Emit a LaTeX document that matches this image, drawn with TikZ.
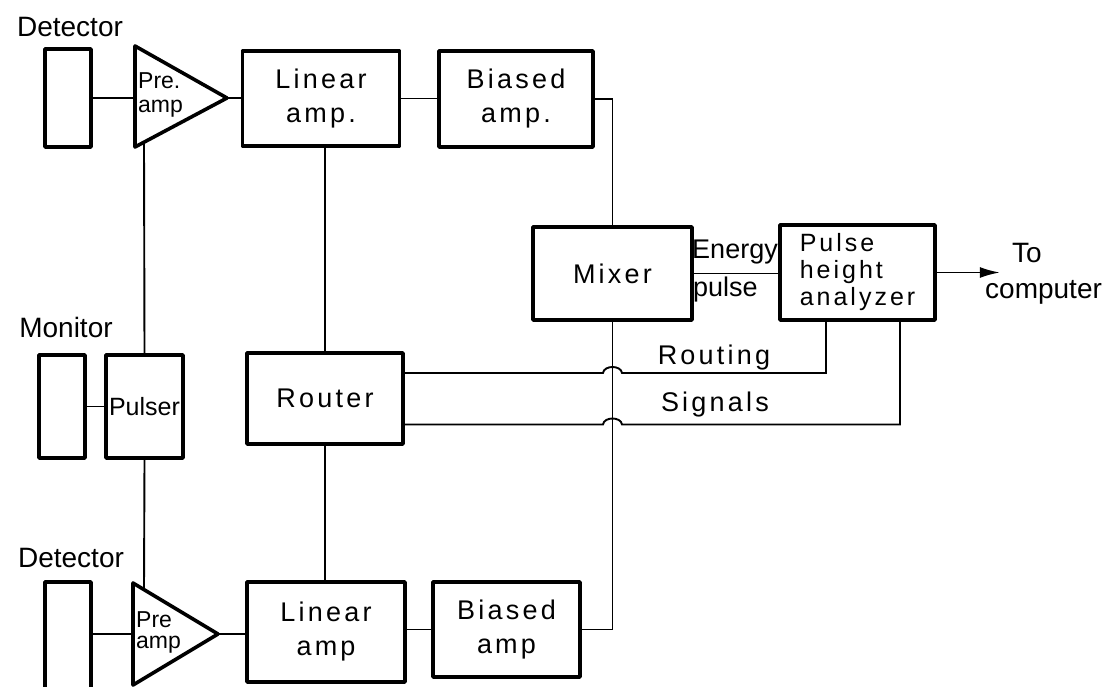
\documentclass[tikz,border=0pt]{standalone}
\usepackage{fontspec}
\setmainfont{Liberation Sans}
\newfontfamily\spacedfont{Liberation Sans}[LetterSpace=12]
\usetikzlibrary{arrows.meta}
\begin{document}
\begin{tikzpicture}[x=1pt,y=-1pt,
  blk/.style={draw, line width=3.6pt, inner sep=0pt, line join=round},
  wire/.style={line width=1.9pt},
  lbl/.style={font=\fontsize{28}{32}\selectfont, inner sep=0pt},
  btxt/.style={font=\spacedfont\fontsize{27}{34}\selectfont, align=center},
  smalltxt/.style={font=\fontsize{23}{24}\selectfont, inner sep=0pt, align=left},
  wlbl/.style={font=\spacedfont\fontsize{27}{32}\selectfont, inner sep=0pt}]
\useasboundingbox (0,0) rectangle (1119,687);

% ---------- top channel ----------
\node[lbl] (tdet) at (70,27) {Detector};
\node[blk, minimum width=46pt, minimum height=98pt] (det1) at (68,98) {};
\coordinate (p1a) at (135,46);
\coordinate (p1b) at (135,147);
\coordinate (p1out) at (227,98);
\coordinate (p1in) at (135,98);
\draw[line width=3.6pt, line join=round] (p1a) -- (p1out) -- (p1b) -- cycle;
\node[smalltxt, anchor=west] (p1txt) at (138,95) {Pre.\\amp};
\node[blk, btxt, minimum width=157pt, minimum height=95pt] (la1) at (321,98.5) {Linear\\amp.};
\node[blk, btxt, minimum width=154pt, minimum height=96pt] (ba1) at (516,99) {Biased\\amp.};

% ---------- middle ----------
\node[lbl] (tmon) at (66,327) {Monitor};
\node[blk, minimum width=46pt, minimum height=103pt] (mon) at (62,406.5) {};
\node[blk, minimum width=77pt, minimum height=103pt, font=\fontsize{25}{28}\selectfont] (pulser) at (144.5,406.5) {Pulser};
\node[blk, btxt, minimum width=156pt, minimum height=91pt] (router) at (325,398.5) {Router};
\node[blk, btxt, minimum width=159pt, minimum height=93pt] (mixer) at (612.5,273.5) {Mixer};
\node[blk, minimum width=155pt, minimum height=95pt, align=left,
      font=\spacedfont\fontsize{25}{27}\selectfont] (pha) at (857.5,272.5)
      {Pulse\\height\\analyzer};

% ---------- bottom channel ----------
\node[lbl] (bdet) at (71,558) {Detector};
\node[blk, minimum width=46pt, minimum height=108pt] (det2) at (68,636) {};
\coordinate (p2a) at (133,583);
\coordinate (p2b) at (133,685);
\coordinate (p2out) at (218,634);
\coordinate (p2in) at (133,634);
\draw[line width=3.6pt, line join=round] (p2a) -- (p2out) -- (p2b) -- cycle;
\node[smalltxt, anchor=west] (p2txt) at (136,632) {Pre\\[-3pt]amp};
\node[blk, btxt, minimum width=158pt, minimum height=100pt] (la2) at (326,632) {Linear\\amp};
\node[blk, btxt, minimum width=147pt, minimum height=95pt] (ba2) at (506.5,629.5) {Biased\\amp};

% ---------- wires ----------
\coordinate (pt1) at (144,142.2);
\coordinate (pt2) at (144,589.6);
\draw[wire] (det1.east |- p1in) -- (p1in);
\draw[wire] (p1out) -- (la1.west |- p1out);
\draw[wire] (la1.east) -- (ba1.west |- la1.east);
\draw[wire] (ba1.east) -- (mixer.north |- ba1.east) -- (mixer.north);
\draw[wire] (router.north) -- (router.north |- la1.south);
\draw[wire] (router.south) -- (router.south |- la2.north);
\draw[wire] (pulser.north) -- (pt1);
\draw[wire] (pulser.south) -- (pt2);
\draw[wire] (mon.east) -- (pulser.west);
\draw[wire] (det2.east |- p2in) -- (p2in);
\draw[wire] (p2out) -- (la2.west |- p2out);
\draw[wire] (la2.east |- ba2.west) -- (ba2.west);
\draw[wire] (ba2.east) -- (mixer.south |- ba2.east) -- (mixer.south);
\draw[wire] (mixer.east) -- (pha.west |- mixer.east);
\draw[wire, -{Latex[length=20pt, width=11pt]}] (pha.east) -- ++(63,0) coordinate (tip);

% routing / signals with hops over the mixer line
\draw[wire] ([yshift=25.5pt]router.east) -- (603,373)
  .. controls (604,365) and (621,365) .. (622,373)
  -- (826,373) -- (826,320);
\draw[wire] ([yshift=-26pt]router.east) -- (603,424.5)
  .. controls (604,416.5) and (621,416.5) .. (622,424.5)
  -- (900,424.5) -- (900,320);

% ---------- labels ----------
\node[font=\fontsize{27}{30}\selectfont, inner sep=0pt] (en) at (735,252) {Energy};
\node[font=\fontsize{27}{30}\selectfont, inner sep=0pt, anchor=west] (pu) at (693,290) {pulse};
\node[wlbl] (rt) at (714,358) {Routing};
\node[wlbl] (sg) at (715,405) {Signals};
\node[font=\fontsize{28}{32}\selectfont, inner sep=0pt, anchor=west] (to) at (1012,253) {To};
\node[font=\fontsize{28}{32}\selectfont, inner sep=0pt, anchor=west] (cp) at (985,292) {computer};
\end{tikzpicture}
\end{document}
